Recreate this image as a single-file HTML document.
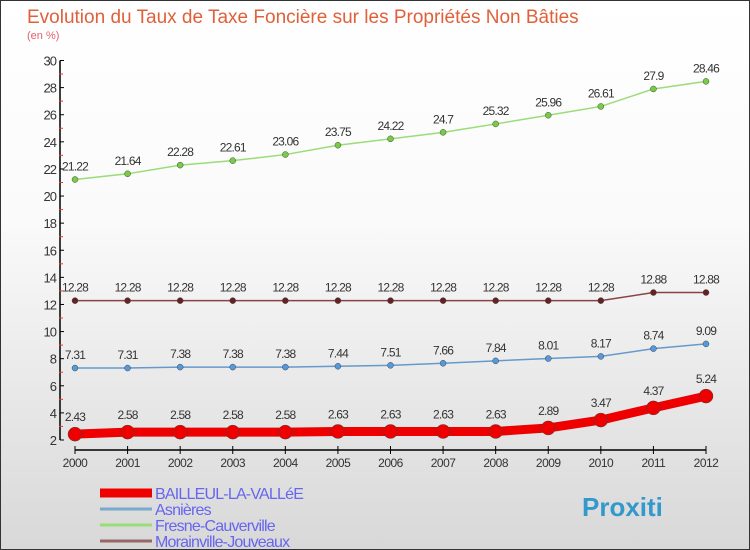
<!DOCTYPE html>
<html><head><meta charset="utf-8"><style>
body{margin:0}
#c{width:750px;height:550px;position:relative;box-sizing:border-box;border:1px solid #333;background:linear-gradient(#fff,#fafafa 40%,#d8d8d8);font-family:"Liberation Sans",sans-serif;overflow:hidden}
</style></head><body>
<div id="c">
<svg id="s" width="750" height="550" style="position:absolute;left:-1px;top:-1px">
<text x="27" y="23" font-size="19" fill="#e0603a">Evolution du Taux de Taxe Foncière sur les Propriétés Non Bâties</text>
<text x="27" y="39" font-size="11" fill="#e06070">(en %)</text>
<g id="g"></g>
</svg>
</div>
<script>
const years=[2000,2001,2002,2003,2004,2005,2006,2007,2008,2009,2010,2011,2012];
const bailleul=[2.43,2.58,2.58,2.58,2.58,2.63,2.63,2.63,2.63,2.89,3.47,4.37,5.24];
const asnieres=[7.31,7.31,7.38,7.38,7.38,7.44,7.51,7.66,7.84,8.01,8.17,8.74,9.09];
const fresne=[21.22,21.64,22.28,22.61,23.06,23.75,24.22,24.7,25.32,25.96,26.61,27.9,28.46];
const morain=[12.28,12.28,12.28,12.28,12.28,12.28,12.28,12.28,12.28,12.28,12.28,12.88,12.88];
const yTicks=[2,4,6,8,10,12,14,16,18,20,22,24,26,28,30];
const NS="http://www.w3.org/2000/svg";
const g=document.getElementById('g');
const X=i=>75+i*(706-75)/12;
const Y=v=>440-(v-2)*(440-60.5)/28;
function mk(t,a,p){const e=document.createElementNS(NS,t);for(const k in a)e.setAttribute(k,a[k]);(p||g).appendChild(e);return e;}
function lbl(v){return String(v).replace('.','.');}
// axes
let ax=mk('line',{x1:60,y1:Y(30),x2:60,y2:Y(2),stroke:'#000','stroke-width':1.5});


yTicks.forEach(v=>{
  mk('line',{x1:60,x2:64,y1:Y(v),y2:Y(v),stroke:'#000'});
  if(v<30)mk('line',{x1:59,x2:63,y1:Y(v+1),y2:Y(v+1),stroke:'#e33'});
  const t=mk('text',{x:56,y:Y(v)+5,'text-anchor':'end','font-size':13,fill:'#333','letter-spacing':'-1'});
  t.textContent=v;
  
  
});
let xa=mk('line',{x1:X(0),x2:X(12),y1:450,y2:450,stroke:'#000','stroke-width':1.5});


years.forEach((y,i)=>{
  mk('line',{x1:X(i),x2:X(i),y1:446,y2:454,stroke:'#000'});
  const t=mk('text',{x:X(i),y:467,'text-anchor':'middle','font-size':12,fill:'#333','letter-spacing':'-0.5'});
  t.textContent=y;
  
  
});
function series(data,color,dot,w,r,name){
  const pl=mk('polyline',{points:data.map((v,i)=>X(i)+','+Y(v)).join(' '),fill:'none',stroke:color,'stroke-width':w,'stroke-linejoin':'round'});
  
  
  data.forEach((v,i)=>{
    const c=mk('circle',{cx:X(i),cy:Y(v),r:r,fill:dot,stroke:'#444','stroke-width':0.5});
    
    
    const t=mk('text',{x:X(i),y:Y(v)-(r+6),'text-anchor':'middle','font-size':12,fill:'#333','letter-spacing':'-0.8'});
    t.textContent=lbl(v);
    
    
  });
}
series(fresne,'#99dd77','#77cc44',1.5,3,'fresne');
series(morain,'#884444','#662222',1.5,3,'morainville');
series(asnieres,'#6699cc','#5599dd',1.5,3,'asnieres');
series(bailleul,'#ee0000','#ee0000',9,7,'bailleul');
// legend
const leg=[['BAILLEUL-LA-VALLéE','#ee0000',9],['Asnières','#77aacc',3],['Fresne-Cauverville','#99dd77',3],['Morainville-Jouveaux','#996666',3]];
leg.forEach((l,i)=>{
  const y=493+i*16;
  const ln=mk('line',{x1:100,x2:152,y1:y,y2:y,stroke:l[1],'stroke-width':l[2]});
  
  
  const t=mk('text',{x:155,y:y+6,'font-size':16,fill:'#6666ee','letter-spacing':'-0.8'});
  t.textContent=l[0];
  
  
});
const b=mk('text',{x:582,y:516,'font-size':26,'font-weight':'bold',fill:'#3399cc'});
b.textContent='Proxiti';


</script>
</body></html>
